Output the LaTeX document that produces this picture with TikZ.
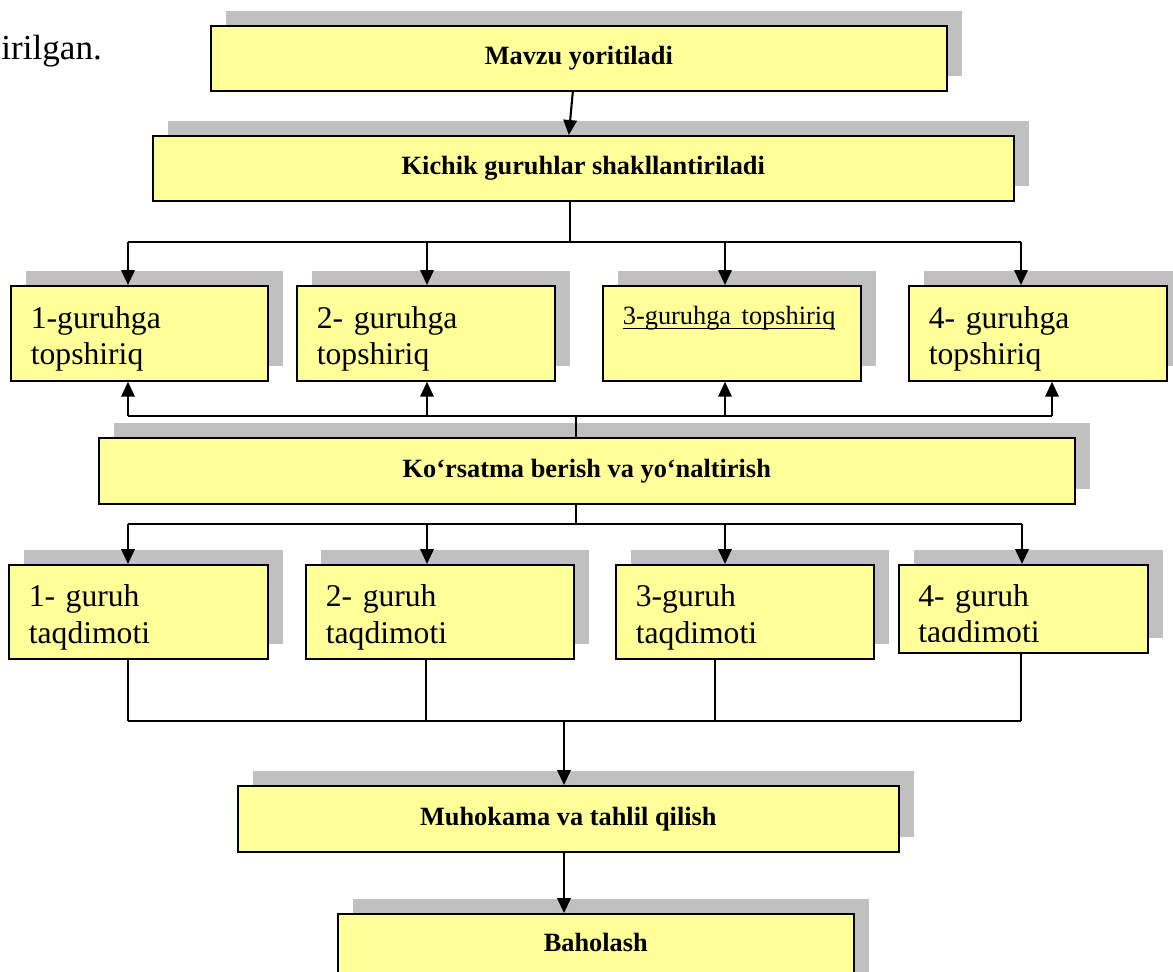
\documentclass[tikz,border=0pt]{standalone}
\usepackage{fontspec}
\setmainfont{Liberation Serif}
\usetikzlibrary{arrows.meta,shadows}
\definecolor{boxyellow}{HTML}{FFFF99}
\definecolor{shadowgray}{HTML}{C0C0C0}
\newcommand{\linelift}{\rule{0pt}{0.66cm}}
\newsavebox{\lowlinebox}
\newcommand{\lowline}[1]{\sbox{\lowlinebox}{#1}\rlap{\rule[-0.1cm]{\wd\lowlinebox}{0.6pt}}\usebox{\lowlinebox}}
\tikzset{
  boxshadow/.style={drop shadow={shadow xshift=0.3cm, shadow yshift=0.3cm, fill=shadowgray, opacity=1}},
  titlebox/.style={draw, line width=1pt, fill=boxyellow, boxshadow, anchor=north west, inner sep=0pt, font=\fontsize{15}{18}\selectfont\bfseries},
  grouptext/.style={anchor=north west, inner xsep=0.4cm, inner ysep=0pt, align=left, font=\fontsize{18}{21}\selectfont},
  groupbox/.style={grouptext, draw, line width=1pt, fill=boxyellow, boxshadow},
  bus/.style={line width=0.7pt},
  conn/.style={->, line width=1.2pt},
}
\begin{document}
\begin{tikzpicture}[x=0.02cm, y=-0.02cm, >={Triangle[length=0.3cm,width=0.27cm]}]
\useasboundingbox (0,0) rectangle (1173,971);
\clip (0,0) rectangle (1173,971);
\node[anchor=base west, inner sep=0pt, font=\fontsize{20}{24}\selectfont] (frag) at (1,59) {irilgan.};
\node[titlebox, minimum width=14.72cm, minimum height=1.3cm] (m1) at (210,25) {Mavzu yoritiladi};
\node[titlebox, minimum width=17.22cm, minimum height=1.3cm] (m2) at (152,135) {Kichik guruhlar shakllantiriladi};
\node[groupbox, text width=4.34cm, minimum height=1.9cm] (t1) at (10,285) {\linelift 1-guruhga\\topshiriq};
\node[groupbox, text width=4.36cm, minimum height=1.9cm] (t2) at (296,285) {\linelift 2- guruhga\\topshiriq};
\node[groupbox, text width=4.36cm, minimum height=1.9cm] (t3) at (602,285) {{\fontsize{15}{21}\selectfont\lowline{3-guruhga topshiriq}}\\\mbox{}};
\node[groupbox, text width=4.36cm, minimum height=1.9cm] (t4) at (908,285) {\linelift 4- guruhga\\topshiriq};
\node[titlebox, minimum width=19.52cm, minimum height=1.32cm] (m3) at (98,437) {Ko‘rsatma berish va yo‘naltirish};
\node[groupbox, text width=4.38cm, minimum height=1.88cm] (p1) at (8,564) {\linelift 1- guruh\\taqdimoti};
\node[groupbox, text width=4.56cm, minimum height=1.88cm] (p2) at (305,564) {\linelift 2- guruh\\taqdimoti};
\node[groupbox, text width=4.36cm, minimum height=1.88cm] (p3) at (615,564) {\linelift 3-guruh\\taqdimoti};
\node[groupbox, text width=4.18cm, minimum height=1.76cm] (p4) at (898,564) {};
\begin{scope}
  \clip (p4.north west) rectangle ([yshift=0.25cm]p4.south east);
  \node[grouptext, text width=4.18cm, minimum height=1.88cm] (p4text) at (p4.north west) {\linelift 4- guruh\\taqdimoti};
\end{scope}
\node[titlebox, minimum width=13.22cm, minimum height=1.32cm] (m4) at (237,785) {Muhokama va tahlil qilish};
\node[titlebox, minimum width=10.32cm, minimum height=1.6cm, text depth=0.45cm] (m5) at (337,913) {Baholash};

\coordinate (k0) at (570,242);
\coordinate (k1) at (128,242);
\coordinate (k2) at (427,242);
\coordinate (k3) at (725,242);
\coordinate (k4) at (1021,242);
\coordinate (u0) at (576,416);
\coordinate (u1) at (128,416);
\coordinate (u2) at (427,416);
\coordinate (u3) at (725,416);
\coordinate (u4) at (1052,416);
\coordinate (d0) at (576,524);
\coordinate (d1) at (128,524);
\coordinate (d2) at (427,524);
\coordinate (d3) at (725,524);
\coordinate (d4) at (1022,524);
\coordinate (e0) at (564,721);
\coordinate (e1) at (128,721);
\coordinate (e2) at (426,721);
\coordinate (e3) at (715,721);
\coordinate (e4) at (1021,721);

\draw[conn] ([xshift=-0.12cm]m1.south) -- ([xshift=-0.29cm]m2.north);
\draw[bus] (m2.south -| k0) -- (k0);
\draw[bus] (k1) -- (k4);
\foreach \i in {1,...,4} \draw[conn] (k\i) -- (k\i |- t\i.north);
\draw[bus] (m3.north -| u0) -- (u0);
\draw[bus] (u1) -- (u4);
\foreach \i in {1,...,4} \draw[conn] (u\i) -- (u\i |- t\i.south);
\draw[bus] (m3.south -| d0) -- (d0);
\draw[bus] (d1) -- (d4);
\foreach \i in {1,...,4} \draw[conn] (d\i) -- (d\i |- p\i.north);
\foreach \i in {1,...,4} \draw[bus] (e\i |- p\i.south) -- (e\i);
\draw[bus] (e1) -- (e4);
\draw[conn] (e0) -- (e0 |- m4.north);
\draw[conn] (m4.south -| e0) -- (e0 |- m5.north);
\end{tikzpicture}
\end{document}
